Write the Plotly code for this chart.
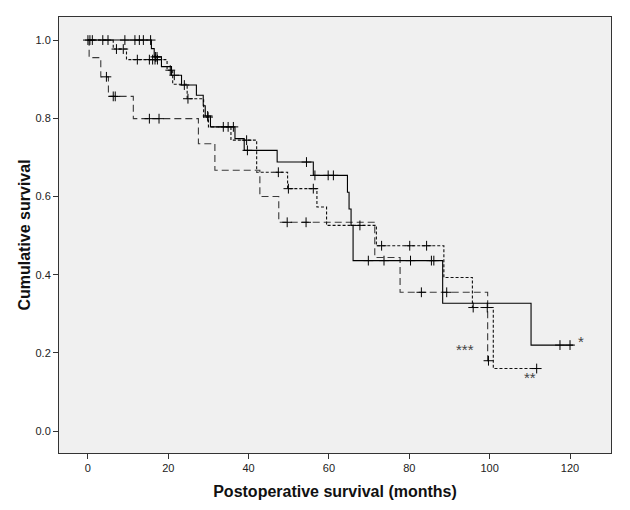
import plotly.graph_objects as go

# Kaplan-Meier step curves (time in months, cumulative survival)
solid_t = [0, 15.8, 16.5, 18.3, 20.8, 23.3, 27.0, 28.7, 29.2, 30.5, 36.6, 38.9, 47.1, 56.1, 64.6, 65.0, 65.5, 66.0, 88.3, 110.3, 120.8]
solid_s = [1.0, 0.978, 0.957, 0.932, 0.910, 0.885, 0.859, 0.832, 0.806, 0.778, 0.748, 0.718, 0.688, 0.654, 0.611, 0.568, 0.526, 0.436, 0.327, 0.220, 0.220]
solid_cens_t = [0, 0.5, 1.1, 3.7, 5.0, 9.2, 11.7, 12.8, 13.8, 15.6, 16.8, 17.2, 21.5, 24.0, 29.8, 33.7, 34.9, 36.2, 39.7, 54.4, 56.5, 59.8, 61.1, 69.8, 73.7, 80.3, 85.5, 86.1, 117.5, 120.0]
solid_cens_s = [1.0, 1.0, 1.0, 1.0, 1.0, 1.0, 1.0, 1.0, 1.0, 1.0, 0.957, 0.957, 0.910, 0.885, 0.806, 0.778, 0.778, 0.778, 0.718, 0.688, 0.654, 0.654, 0.654, 0.436, 0.436, 0.436, 0.436, 0.436, 0.220, 0.220]

sdash_t = [0, 6.3, 9.6, 19.7, 21.1, 24.7, 28.8, 30.0, 35.6, 42.0, 49.7, 57.0, 59.4, 71.8, 88.6, 95.7, 100.9, 111.7]
sdash_s = [1.0, 0.977, 0.950, 0.923, 0.887, 0.850, 0.803, 0.778, 0.744, 0.662, 0.620, 0.573, 0.526, 0.474, 0.393, 0.316, 0.160, 0.160]
sdash_cens_t = [7.1, 8.8, 12.3, 15.3, 16.1, 16.7, 17.3, 20.5, 24.9, 29.9, 39.5, 47.4, 49.9, 56.1, 67.7, 73.1, 80.1, 84.3, 95.9, 99.4, 111.7]
sdash_cens_s = [0.977, 0.977, 0.950, 0.950, 0.950, 0.950, 0.950, 0.923, 0.850, 0.803, 0.744, 0.662, 0.620, 0.620, 0.526, 0.474, 0.474, 0.474, 0.316, 0.316, 0.160]

ldash_t = [0, 0.3, 3.2, 5.1, 11.3, 27.5, 31.6, 42.8, 47.5, 71.4, 77.7, 99.5, 99.7]
ldash_s = [1.0, 0.955, 0.906, 0.856, 0.799, 0.735, 0.667, 0.600, 0.534, 0.444, 0.355, 0.180, 0.180]
ldash_cens_t = [4.6, 6.3, 6.8, 15.3, 17.7, 49.6, 54.3, 83.0, 89.3, 99.7]
ldash_cens_s = [0.906, 0.856, 0.856, 0.799, 0.799, 0.534, 0.534, 0.355, 0.355, 0.180]

label_text = ["*", "**", "***"]
label_t = [122.7, 110.0, 93.8]
label_s = [0.228, 0.138, 0.208]

fig = go.Figure()

def add_curve(t, s, ct, cs, color, dash):
    fig.add_trace(go.Scatter(x=t, y=s, mode="lines", line=dict(color=color, width=1.1, dash=dash, shape="hv"),
                             showlegend=False, hoverinfo="skip"))
    fig.add_trace(go.Scatter(x=ct, y=cs, mode="markers",
                             marker=dict(symbol="cross-thin", size=7, line=dict(color="black", width=1)),
                             showlegend=False, hoverinfo="skip"))

add_curve(ldash_t, ldash_s, ldash_cens_t, ldash_cens_s, "#3a3a3a", "7px,4px")
add_curve(sdash_t, sdash_s, sdash_cens_t, sdash_cens_s, "#111111", "3px,2px")
add_curve(solid_t, solid_s, solid_cens_t, solid_cens_s, "#000000", "solid")

for txt, tx, sy in zip(label_text, label_t, label_s):
    fig.add_annotation(x=tx, y=sy, text=txt, showarrow=False,
                       font=dict(family="Liberation Sans, Arial", size=15, color="#444444"))

fig.update_layout(
    width=622, height=502,
    margin=dict(l=51, r=19, t=9, b=57),
    paper_bgcolor="white", plot_bgcolor="#f0f0f0",
    font=dict(family="Liberation Sans, Arial", size=11, color="#222222"),
)
fig.update_xaxes(range=[-7.2, 130.2], tickvals=[0, 20, 40, 60, 80, 100, 120], automargin=False,
                 ticks="outside", ticklen=5, tickcolor="#333", showgrid=False, zeroline=False,
                 showline=True, linecolor="#333", linewidth=1, mirror=True,
                 title=dict(text="<b>Postoperative survival (months)</b>",
                            font=dict(size=16, color="#111"), standoff=12))
fig.update_yaxes(range=[-0.056, 1.059], tickvals=[0, 0.2, 0.4, 0.6, 0.8, 1.0], tickformat=".1f",
                 automargin=False,
                 ticks="outside", ticklen=5, tickcolor="#333", showgrid=False, zeroline=False,
                 showline=True, linecolor="#333", linewidth=1, mirror=True,
                 title=dict(text="<b>Cumulative survival</b>",
                            font=dict(size=16, color="#111"), standoff=0))

fig.write_html("out.html")
